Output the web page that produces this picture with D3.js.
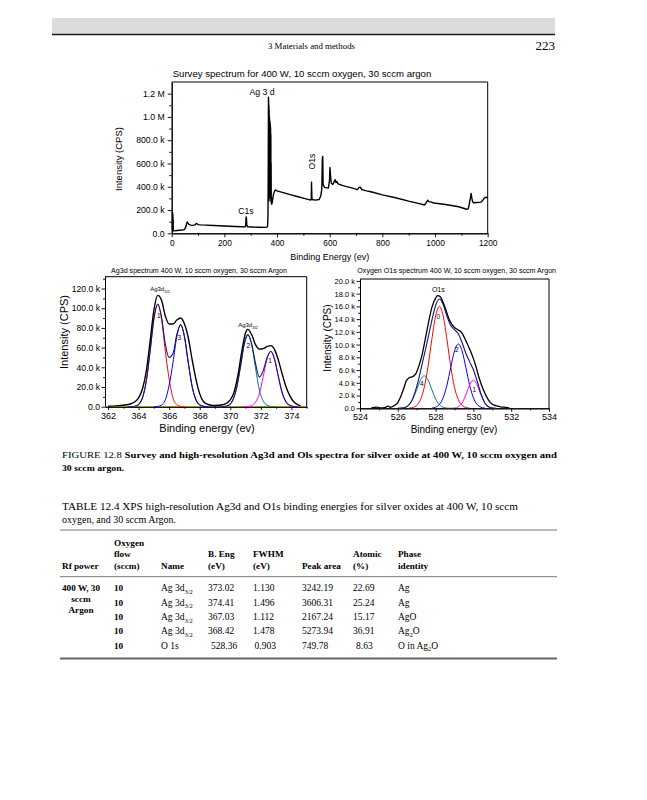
<!DOCTYPE html>
<html><head><meta charset="utf-8">
<script src="https://cdn.jsdelivr.net/npm/d3@7"></script>
<style>
body{margin:0;background:#fff;}
svg{display:block;}
</style></head><body>
<svg id="page" width="647" height="800"></svg>
<script>
// ---------------- DATA ----------------
// Survey spectrum: [binding energy eV, intensity in k CPS]
const surveySpectrum = [[0,30],[0.5,170],[1,40],[1.5,185],[2,35],[2.5,182],[3,30],[3.5,176],[4,28],[4.5,160],[5,25],[5.5,120],[6,22],[10,21],[20,24],[30,26],[40,28],[48,32],[53,50],[56,78],[59,97],[62,88],[66,76],[72,70],[80,68],[88,72],[93,85],[96,82],[100,75],[110,72],[130,70],[160,67],[200,63],[240,59],[270,56],[279,55],[281,70],[282.5,140],[284,130],[285,70],[288,55],[300,54],[330,52],[355,51],[362,53],[364,60],[365.5,140],[366.5,500],[367.5,1170],[368,1150],[368.5,300],[369,1100],[369.5,280],[370,1060],[370.5,300],[371,1000],[371.5,320],[372,980],[372.5,350],[373,960],[373.5,500],[374,940],[374.5,930],[375,400],[375.5,910],[376,300],[376.5,850],[377,270],[377.5,600],[378,260],[379,300],[380,250],[382,270],[386,330],[390,360],[394,372],[400,365],[420,352],[450,332],[480,314],[510,296],[528,285],[530,300],[531,440],[532,330],[533,290],[545,285],[560,290],[566,320],[570,380],[572,640],[573.5,660],[575,420],[580,395],[595,388],[599,450],[601,565],[603,500],[606,430],[612,420],[618,450],[621,460],[624,435],[627,445],[632,425],[650,410],[680,393],[705,375],[712,395],[716,397],[722,375],[740,365],[760,355],[800,330],[850,305],[900,276],[940,255],[960,243],[966,262],[972,285],[978,270],[984,270],[995,260],[1040,247],[1090,228],[1120,207],[1126,210],[1130,250],[1134,300],[1137,343],[1140,300],[1143,270],[1146,262],[1160,265],[1175,268],[1180,280],[1188,305],[1195,310],[1200,308]];
const surveyXTicks = [0,200,400,600,800,1000,1200];
const surveyXMinor = [100,300,500,700,900,1100];
const surveyYTicks = [0,200,400,600,800,1000,1200];
const surveyYLabels = ["0.0","200.0 k","400.0 k","600.0 k","800.0 k","1.0 M","1.2 M"];
const surveyYMinor = [100,300,500,700,900,1100];

// Ag3d high resolution (k CPS)
const agRaw = [[362.0,0.5],[362.5,0.8],[363.0,1.5],[363.5,3.0],[363.75,5],[364.0,9],[364.25,18],[364.5,36],[364.75,66],[365.0,98],[365.25,113],[365.5,108],[365.75,92],[366.0,84],[366.25,84],[366.5,88],[366.75,90],[367.0,84],[367.25,70],[367.5,48],[367.75,28],[368.0,13],[368.25,5],[368.5,2.5],[368.75,1.5],[369.0,1.2],[369.5,2],[369.75,3.5],[370.0,7],[370.25,15],[370.5,32],[370.75,56],[371.0,75],[371.15,78.5],[371.4,73],[371.65,63],[371.9,58.5],[372.15,59],[372.4,61],[372.65,62],[372.9,58],[373.15,47],[373.4,33],[373.65,20],[373.9,11],[374.15,5],[374.4,2],[374.6,0.8]];
const agFit = [[363.25,0],[363.5,0.1],[363.75,0.4],[364.0,2.2],[364.25,8.8],[364.5,25.9],[364.75,56.1],[365.0,89.1],[365.25,104.3],[365.5,90.9],[365.75,63.1],[366.0,50],[366.25,54],[366.5,73.3],[366.75,83.4],[367.0,71.1],[367.25,44.7],[367.5,20.7],[367.75,7.0],[368.0,1.8],[368.25,0.3],[368.5,0],[369.4,0],[369.65,0.3],[369.9,1.5],[370.15,6.2],[370.4,18.2],[370.65,39.3],[370.9,62.6],[371.15,73.2],[371.4,63.8],[371.65,44.0],[371.9,30],[372.15,36.4],[372.4,49.5],[372.65,56.3],[372.9,48.0],[373.15,30.2],[373.4,13.9],[373.65,4.7],[373.9,1.2],[374.15,0.2],[374.4,0]];
const agPeak1 = [[363.5,0],[363.75,0.4],[364.0,2.2],[364.25,8.8],[364.5,25.9],[364.75,56.1],[365.0,89.1],[365.25,104],[365.5,89.1],[365.75,56.1],[366.0,28],[366.25,8.8],[366.5,2.2],[366.75,0.4],[367.0,0]];
const agPeak3 = [[365.0,0],[365.25,0.3],[365.5,1.8],[365.75,7.0],[366.0,22],[366.25,44.7],[366.5,71.1],[366.75,83],[367.0,71.1],[367.25,44.7],[367.5,20.7],[367.75,7.0],[368.0,1.8],[368.25,0.3],[368.5,0]];
const agPeak2 = [[369.4,0],[369.65,0.3],[369.9,1.5],[370.15,6.2],[370.4,18.2],[370.65,39.3],[370.9,62.6],[371.15,73],[371.4,62.6],[371.65,39.3],[371.9,17],[372.15,6.2],[372.4,1.5],[372.65,0.3],[372.9,0]];
const agPeak1b = [[370.9,0],[371.15,0.2],[371.4,1.2],[371.65,4.7],[371.9,13],[372.15,30.2],[372.4,48.0],[372.65,56],[372.9,48.0],[373.15,30.2],[373.4,13.9],[373.65,4.7],[373.9,1.2],[374.15,0.2],[374.4,0]];
const agBaseline = [[361.8,0],[375,0]];
const agXTicks = [362,364,366,368,370,372,374];
const agXMinor = [363,365,367,369,371,373,375];
const agYTicks = [0,20,40,60,80,100,120];
const agYLabels = ["0.0","20.0 k","40.0 k","60.0 k","80.0 k","100.0 k","120.0 k"];
const agYMinor = [10,30,50,70,90,110,130];

// O1s high resolution (k CPS)
const oRaw = [[524.6,0.05],[524.9,0.2],[525.1,0.05],[525.3,0.1],[525.5,0.35],[525.6,0.15],[525.8,0.4],[526.0,0.9],[526.15,1.8],[526.3,3.0],[526.45,4.3],[526.6,4.8],[526.8,5.0],[526.95,5.4],[527.1,6.5],[527.3,8.6],[527.45,10.8],[527.6,13.1],[527.8,15.8],[528.0,17.3],[528.1,17.7],[528.25,17.5],[528.4,16.6],[528.55,15.4],[528.7,14.1],[528.85,13.2],[529.0,12.7],[529.2,12.3],[529.4,11.8],[529.6,10.6],[529.8,9.3],[530.0,7.8],[530.15,6.4],[530.3,4.8],[530.5,3.1],[530.7,1.8],[530.9,0.9],[531.1,0.5],[531.3,0.35],[531.5,0.2],[531.7,0.15],[531.9,0.05]];
const oFit = [[526.0,0],[526.2,0.03],[526.4,0.16],[526.6,0.59],[526.8,1.6],[527.0,3.39],[527.2,5.8],[527.4,8.4],[527.6,11.02],[527.8,13.77],[528.0,16.14],[528.2,17.15],[528.4,16.31],[528.6,14.47],[528.8,13.0],[529.0,12.36],[529.2,11.69],[529.4,10.32],[529.6,8.65],[529.8,7.33],[530.0,6.05],[530.2,4.25],[530.4,2.28],[530.6,0.88],[530.8,0.23],[531.0,0.04],[531.2,0]];
const oPeak4 = [[526.0,0],[526.2,0.03],[526.4,0.16],[526.6,0.56],[526.8,1.47],[527.0,2.93],[527.2,4.44],[527.4,5.1],[527.6,4.44],[527.8,2.93],[528.0,1.47],[528.2,0.56],[528.4,0.16],[528.6,0.03],[528.8,0]];
const oPeak0 = [[526.6,0.03],[526.8,0.13],[527.0,0.46],[527.2,1.36],[527.4,3.3],[527.6,6.58],[527.8,10.8],[528.0,14.5],[528.2,16],[528.4,14.5],[528.6,10.8],[528.8,6.58],[529.0,3.3],[529.2,1.36],[529.4,0.46],[529.6,0.13],[529.8,0.03]];
const oPeak2 = [[527.8,0.04],[528.0,0.17],[528.2,0.59],[528.4,1.65],[528.6,3.64],[528.8,6.41],[529.0,9.02],[529.2,10.1],[529.4,9.02],[529.6,6.41],[529.8,3.64],[530.0,1.65],[530.2,0.59],[530.4,0.17],[530.6,0.04]];
const oPeak1 = [[528.8,0.01],[529.0,0.04],[529.2,0.23],[529.4,0.84],[529.6,2.11],[529.8,3.66],[530.0,4.4],[530.2,3.66],[530.4,2.11],[530.6,0.84],[530.8,0.23],[531.0,0.04],[531.2,0]];
const oXTicks = [524,526,528,530,532,534];
const oXMinor = [525,527,529,531,533];
const oYTicks = [0,2,4,6,8,10,12,14,16,18,20];
const oYLabels = ["0.0","2.0 k","4.0 k","6.0 k","8.0 k","10.0 k","12.0 k","14.0 k","16.0 k","18.0 k","20.0 k"];
const oYMinor = [1,3,5,7,9,11,13,15,17,19];

// Table
const tableRfPower = ["400 W, 30","sccm","Argon"];
const tableFlow = ["10","10","10","10","10"];
const tableName = ["Ag 3d_{3/2}","Ag 3d_{3/2}","Ag 3d_{3/2}","Ag 3d_{3/2}","O 1s"];
const tableBEng = ["373.02","374.41","367.03","368.42","528.36"];
const tableFWHM = ["1.130","1.496","1.112","1.478","0.903"];
const tableArea = ["3242.19","3606.31","2167.24","5273.94","749.78"];
const tableAtomic = ["22.69","25.24","15.17","36.91","8.63"];
const tablePhase = ["Ag","Ag","AgO","Ag_{2}O","O in Ag_{2}O"];

// ---------------- DRAWING ----------------
const SANS = '"Liberation Sans", Arial, sans-serif';
const SERIF = '"Liberation Serif", "Times New Roman", serif';
const svg = d3.select('#page');

function richText(sel, str, fs) {
  const parts = str.split(/(_\{[^}]*\})/).filter(p => p);
  let pending = 0;
  parts.forEach(p => {
    if (p.startsWith('_{')) {
      sel.append('tspan').attr('font-size', fs * 0.68).attr('dy', fs * 0.3).text(p.slice(2, -1));
      pending = -fs * 0.3;
    } else {
      const t = sel.append('tspan').text(p);
      if (pending) { t.attr('dy', pending); pending = 0; }
    }
  });
}

function chart(c) {
  const g = svg.append('g');
  const x = d3.scaleLinear().domain(c.xDomain).range([c.left, c.right]);
  const y = d3.scaleLinear().domain(c.yDomain).range([c.bottom, c.top]);
  g.append('line').attr('x1', c.left).attr('x2', c.right).attr('y1', c.top).attr('y2', c.top).attr('stroke', '#000').attr('stroke-width', 1);
  g.append('line').attr('x1', c.right).attr('x2', c.right).attr('y1', c.top).attr('y2', c.bottom).attr('stroke', '#000').attr('stroke-width', 1);
  const style = (a, fs) => {
    a.attr('font-family', SANS).attr('font-size', fs);
    a.select('.domain').attr('stroke', '#000').attr('stroke-width', 1);
    a.selectAll('.tick line').attr('stroke', '#000').attr('stroke-width', 0.9);
    a.selectAll('.tick text').attr('fill', '#000');
  };
  style(g.append('g').attr('transform', `translate(0,${c.bottom})`)
    .call(d3.axisBottom(x).tickValues(c.xMinor).tickSize(c.minor).tickSizeOuter(0).tickFormat('')), c.xfs);
  style(g.append('g').attr('transform', `translate(0,${c.bottom})`)
    .call(d3.axisBottom(x).tickValues(c.xTicks).tickSize(c.major).tickSizeOuter(0).tickPadding(c.xpad).tickFormat(d3.format('d'))), c.xfs);
  style(g.append('g').attr('transform', `translate(${c.left},0)`)
    .call(d3.axisLeft(y).tickValues(c.yMinor).tickSize(c.minor).tickSizeOuter(0).tickFormat('')), c.yfs);
  style(g.append('g').attr('transform', `translate(${c.left},0)`)
    .call(d3.axisLeft(y).tickValues(c.yTicks).tickSize(c.major).tickSizeOuter(0).tickPadding(c.ypad).tickFormat((d, i) => c.yLabels[i])), c.yfs);
  const clip = 'clip' + Math.round(c.left);
  g.append('clipPath').attr('id', clip).append('rect').attr('x', c.left).attr('y', c.top - 2).attr('width', c.right - c.left).attr('height', c.bottom - c.top + 2);
  const plot = g.append('g').attr('clip-path', `url(#${clip})`);
  c.series.forEach(s => {
    const line = d3.line().x(d => x(d[0])).y(d => y(d[1])).curve(s.curve || d3.curveMonotoneX);
    plot.append('path').datum(s.data).attr('d', line).attr('fill', 'none')
      .attr('stroke', s.color).attr('stroke-width', s.width).attr('stroke-linejoin', 'round');
  });
  g.append('text').attr('x', c.titleX).attr('y', c.titleY).attr('text-anchor', 'middle')
    .attr('font-family', SANS).attr('font-size', c.titleFs).text(c.title);
  g.append('text').attr('x', c.xlabX).attr('y', c.xlabY).attr('text-anchor', 'middle')
    .attr('font-family', SANS).attr('font-size', c.xlabFs).text(c.xlab);
  g.append('text').attr('transform', `translate(${c.ylabX},${c.ylabY}) rotate(-90)`).attr('text-anchor', 'middle')
    .attr('font-family', SANS).attr('font-size', c.ylabFs).text(c.ylab);
  (c.notes || []).forEach(n => {
    const t = g.append('text').attr('text-anchor', 'middle').attr('font-family', SANS).attr('font-size', n.fs).attr('fill', '#000');
    if (n.rot) t.attr('transform', `translate(${n.x},${n.y}) rotate(-90)`); else t.attr('x', n.x).attr('y', n.y);
    richText(t, n.text, n.fs);
  });
  return {x, y};
}

// Header
svg.append('rect').attr('x', 52).attr('y', 18).attr('width', 503).attr('height', 16).attr('fill', '#dcdcdc');
svg.append('line').attr('x1', 52).attr('x2', 555).attr('y1', 34.5).attr('y2', 34.5).attr('stroke', '#1a1a1a').attr('stroke-width', 1.3);
svg.append('text').attr('x', 268).attr('y', 49).attr('font-family', SERIF).attr('font-size', 8.5)
  .attr('textLength', 87).attr('lengthAdjust', 'spacingAndGlyphs').text('3  Materials and methods');
svg.append('text').attr('x', 555).attr('y', 50).attr('text-anchor', 'end').attr('font-family', SERIF).attr('font-size', 13).text('223');

// Survey
chart({
  left: 171.7, right: 487.7, top: 82, bottom: 233.3,
  xDomain: [0, 1200], yDomain: [0, 1300],
  xTicks: surveyXTicks, xMinor: surveyXMinor, yTicks: surveyYTicks, yLabels: surveyYLabels, yMinor: surveyYMinor,
  major: 4, minor: 2.5, xpad: 2.5, ypad: 3, xfs: 8.3, yfs: 8.7,
  series: [{data: surveySpectrum, color: '#000', width: 1.4, curve: d3.curveLinear}],
  title: 'Survey spectrum for 400 W, 10 sccm oxygen, 30 sccm argon', titleX: 302, titleY: 76.5, titleFs: 9.6,
  xlab: 'Binding Energy (ev)', xlabX: 329.7, xlabY: 260, xlabFs: 9,
  ylab: 'Intensity (CPS)', ylabX: 121.5, ylabY: 159, ylabFs: 9.5,
  notes: [{text: 'Ag 3 d', x: 262, y: 94.5, fs: 8.7}, {text: 'C1s', x: 246, y: 213.5, fs: 8.7}, {text: 'O1s', x: 315, y: 161.5, fs: 8.7, rot: true}]
});

// Ag3d
chart({
  left: 105, right: 306.7, top: 276.7, bottom: 406.7,
  xDomain: [361.8, 375], yDomain: [0, 132],
  xTicks: agXTicks, xMinor: agXMinor, yTicks: agYTicks, yLabels: agYLabels, yMinor: agYMinor,
  major: 3.5, minor: 2, xpad: 2, ypad: 1.5, xfs: 9, yfs: 8.6,
  series: [
    {data: agBaseline, color: '#a89a3c', width: 1, curve: d3.curveLinear},
    {data: agPeak1, color: '#ff0000', width: 1},
    {data: agPeak3, color: '#0000ff', width: 1},
    {data: agPeak2, color: '#008080', width: 1},
    {data: agPeak1b, color: '#ff00ff', width: 1},
    {data: agFit, color: '#14147a', width: 1.1},
    {data: agRaw, color: '#000', width: 1.4}
  ],
  title: 'Ag3d spectrum 400 W, 10 sccm oxygen, 30 sccm Argon', titleX: 199, titleY: 272.5, titleFs: 7.1,
  xlab: 'Binding energy (ev)', xlabX: 207, xlabY: 431.5, xlabFs: 11,
  ylab: 'Intensity (CPS)', ylabX: 68, ylabY: 332, ylabFs: 11,
  notes: [
    {text: 'Ag3d_{5/2}', x: 160, y: 291, fs: 6},
    {text: 'Ag3d_{3/2}', x: 248, y: 327, fs: 6},
    {text: '1', x: 158.7, y: 318, fs: 6.5}, {text: '3', x: 179.3, y: 340, fs: 6.5},
    {text: '2', x: 248.3, y: 347.5, fs: 6.5}, {text: '1', x: 270, y: 362.5, fs: 6.5}
  ]
});

// O1s
chart({
  left: 360, right: 549, top: 279, bottom: 408.3,
  xDomain: [524, 534], yDomain: [0, 20.3],
  xTicks: oXTicks, xMinor: oXMinor, yTicks: oYTicks, yLabels: oYLabels, yMinor: oYMinor,
  major: 3.5, minor: 2, xpad: 2, ypad: 1.5, xfs: 9, yfs: 7.5,
  series: [
    {data: oPeak4, color: '#008080', width: 1},
    {data: oPeak0, color: '#ff0000', width: 1},
    {data: oPeak2, color: '#0000ff', width: 1},
    {data: oPeak1, color: '#ff00ff', width: 1},
    {data: oFit, color: '#14147a', width: 1.1},
    {data: oRaw, color: '#000', width: 1.3}
  ],
  title: 'Oxygen O1s spectrum 400 W, 10 sccm oxygen, 30 sccm Argon', titleX: 456.7, titleY: 272.5, titleFs: 7.1,
  xlab: 'Binding energy (ev)', xlabX: 454, xlabY: 433, xlabFs: 10,
  ylab: 'Intensity (CPS)', ylabX: 330.5, ylabY: 338, ylabFs: 10,
  notes: [
    {text: 'O1s', x: 438.3, y: 291.5, fs: 7},
    {text: '0', x: 438.3, y: 319, fs: 6.5}, {text: '2', x: 456.7, y: 352, fs: 6.5},
    {text: '4', x: 421.7, y: 386, fs: 6.5}, {text: '1', x: 474.3, y: 391.5, fs: 6.5}
  ]
});

// Figure caption
const cap1 = svg.append('text').attr('x', 62).attr('y', 458).attr('font-family', SERIF).attr('font-size', 9)
  .attr('textLength', 495).attr('lengthAdjust', 'spacingAndGlyphs');
cap1.append('tspan').text('FIGURE 12.8   ');
cap1.append('tspan').attr('font-weight', 'bold').text('Survey and high-resolution Ag3d and Ols spectra for silver oxide at 400 W, 10 sccm oxygen and');
svg.append('text').attr('x', 62).attr('y', 471).attr('font-family', SERIF).attr('font-size', 9).attr('font-weight', 'bold')
  .attr('textLength', 62).attr('lengthAdjust', 'spacingAndGlyphs').text('30 sccm argon.');

// Table caption
svg.append('text').attr('x', 62).attr('y', 510).attr('font-family', SERIF).attr('font-size', 9.5)
  .attr('textLength', 456).attr('lengthAdjust', 'spacingAndGlyphs')
  .text('TABLE 12.4   XPS high-resolution Ag3d and O1s binding energies for silver oxides at 400 W, 10 sccm');
svg.append('text').attr('x', 62).attr('y', 523).attr('font-family', SERIF).attr('font-size', 9.5)
  .attr('textLength', 114).attr('lengthAdjust', 'spacingAndGlyphs').text('oxygen, and 30 sccm Argon.');

// Table
const FS = 9.5;
const T = svg.append('g').attr('font-family', SERIF).attr('font-size', FS).attr('fill', '#000');
const rule = (y, w, col) => T.append('line').attr('x1', 60).attr('x2', 557).attr('y1', y).attr('y2', y).attr('stroke', col).attr('stroke-width', w);
rule(530, 0.8, '#555');
rule(576.7, 0.8, '#555');
rule(658.5, 2, '#666');
const colX = [62, 114, 161, 208, 253, 302, 353, 398];
const head = [
  [['Rf power', 568.5]],
  [['Oxygen', 546], ['flow', 556.5], ['(sccm)', 568.5]],
  [['Name', 568.5]],
  [['B. Eng', 556.5], ['(eV)', 568.5]],
  [['FWHM', 556.5], ['(eV)', 568.5]],
  [['Peak area', 568.5]],
  [['Atomic', 556.5], ['(%)', 568.5]],
  [['Phase', 556.5], ['identity', 568.5]]
];
head.forEach((lines, i) => lines.forEach(([t, y]) => T.append('text').attr('x', colX[i]).attr('y', y).attr('font-weight', 'bold').attr('font-size', 9.2).text(t)));
const rowY = [591, 605.5, 619.8, 634, 648.5];
T.append('text').attr('x', 62).attr('y', 591).attr('font-weight', 'bold').attr('font-size', 9.2).text(tableRfPower[0]);
T.append('text').attr('x', 81).attr('y', 602).attr('text-anchor', 'middle').attr('font-weight', 'bold').attr('font-size', 9.2).text(tableRfPower[1]);
T.append('text').attr('x', 81).attr('y', 613).attr('text-anchor', 'middle').attr('font-weight', 'bold').attr('font-size', 9.2).text(tableRfPower[2]);
rowY.forEach((y, r) => {
  T.append('text').attr('x', colX[1]).attr('y', y).attr('font-weight', 'bold').attr('font-size', 9.2).text(tableFlow[r]);
  richText(T.append('text').attr('x', colX[2]).attr('y', y), tableName[r], FS);
  T.append('text').attr('x', colX[3] + (r === 4 ? 3 : 0)).attr('y', y).text(tableBEng[r]);
  T.append('text').attr('x', colX[4] + (r === 4 ? 1.5 : 0)).attr('y', y).text(tableFWHM[r]);
  T.append('text').attr('x', colX[5]).attr('y', y).text(tableArea[r]);
  T.append('text').attr('x', colX[6] + (r === 4 ? 3 : 0)).attr('y', y).text(tableAtomic[r]);
  richText(T.append('text').attr('x', colX[7]).attr('y', y), tablePhase[r], FS);
});
</script></body></html>
